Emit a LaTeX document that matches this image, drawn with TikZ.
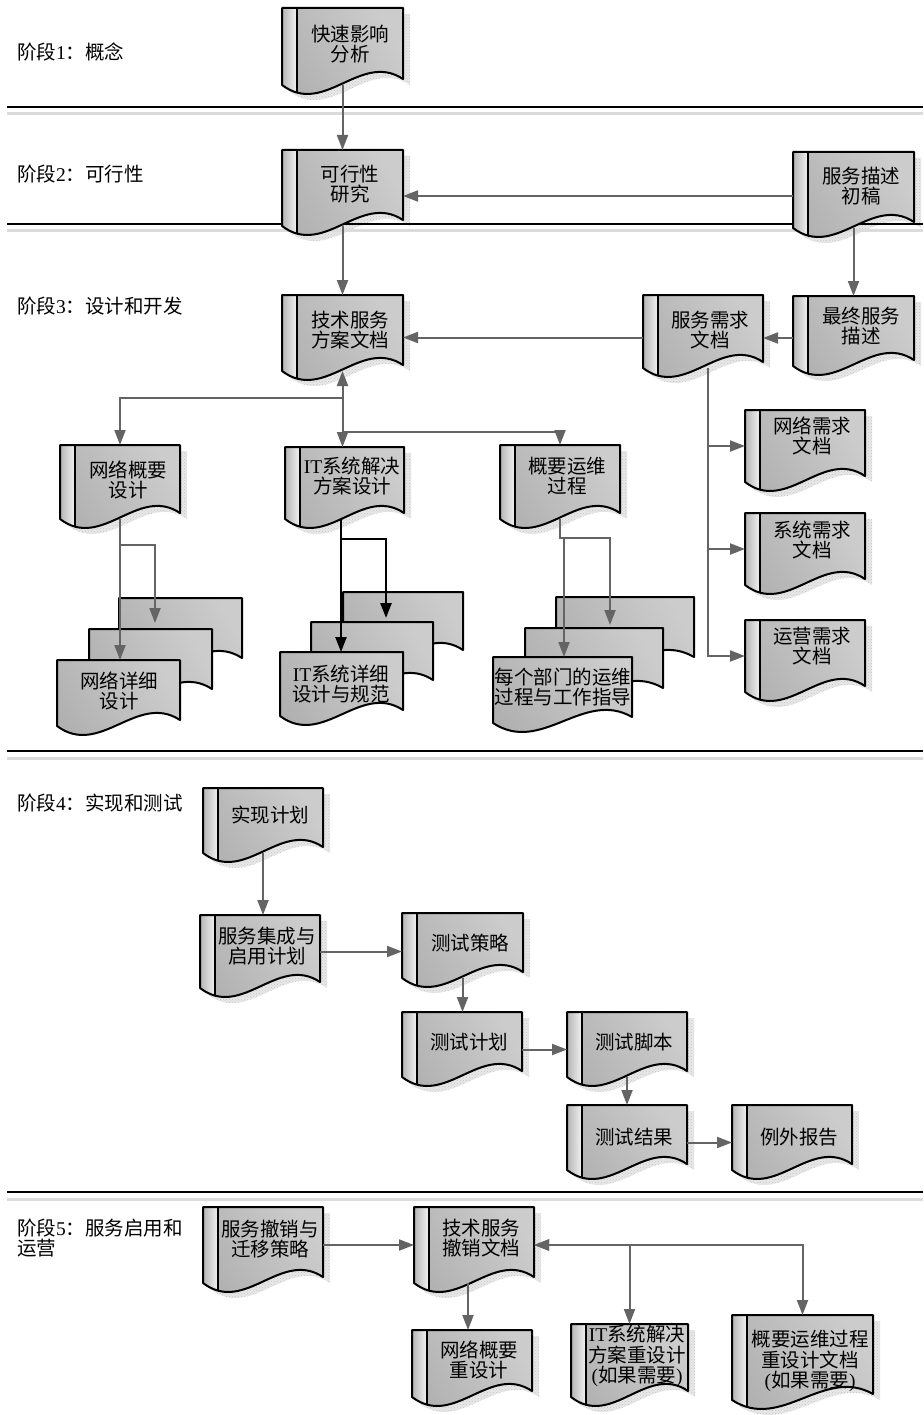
\documentclass[tikz,border=0pt]{standalone}
\usepackage{fontspec}
\setmainfont{Liberation Serif}
\newfontfamily\cjk{Noto Sans CJK SC}
\usetikzlibrary{arrows.meta,patterns}
\definecolor{lnc}{HTML}{646464}
\pgfdeclarelayer{shadows}
\pgfdeclarelayer{lines}
\pgfdeclarelayer{shapes}
\pgfsetlayers{shadows,lines,shapes,main}

\tikzset{
  ln/.style={draw=lnc, line width=2pt},
  arr/.style={ln, ->},
  blk/.style={draw=black, line width=2.4pt, ->},
  sepline/.style={draw=black, line width=1.8pt},
  sepdots/.style={draw=gray!28, line width=3pt},
  anchorbox/.style={draw=none, fill=none, inner sep=0pt, outer sep=0pt},
  doctext/.style={font={\cjk\fontsize{19.5pt}{20.5pt}\selectfont}, align=center, inner sep=0pt},
  phase/.style={font={\cjk\fontsize{19.5pt}{20.5pt}\selectfont}, anchor=west, align=left, inner sep=0pt},
  bodyfill/.style={left color=gray!62, middle color=gray!10, right color=gray!40, shading angle=120},
  barfill/.style={left color=gray!58, right color=gray!10},
  outline/.style={draw=black, line width=2pt, line join=round},
  shadowfill/.style={fill=gray!18, postaction={pattern=crosshatch dots, pattern color=gray!45}},
}

% outline of a document sheet with a wavy lower edge: style, left, top, width, height
\newcommand\docshape[5]{%
  \path[#1] (#2,#3) -- ({#2+#4},#3) -- ({#2+#4},{#3+#5-6})
    .. controls ({#2+0.65*#4},{#3+#5-34}) and ({#2+0.35*#4},{#3+#5+32}) .. (#2,{#3+#5}) -- cycle;}

% document with side bar and shadow: name, left, top, width, height, text x, text y, text
\newcommand\docbox[8]{%
  \node[anchorbox, minimum width=#4, minimum height=#5] (#1) at ({#2+#4/2},{#3+#5/2}) {};
  \begin{pgfonlayer}{shadows}
    \begin{scope}[shift={(7,6)}]\docshape{shadowfill}{#2}{#3}{#4}{#5}\end{scope}
  \end{pgfonlayer}
  \begin{pgfonlayer}{shapes}
    \begin{scope}
      \docshape{clip}{#2}{#3}{#4}{#5}
      \docshape{bodyfill}{#2}{#3}{#4}{#5}
      \path[barfill] (#2,#3) rectangle ({#2+15},{#3+#5+40});
      \draw[outline] ({#2+15},#3) -- ({#2+15},{#3+#5+40});
    \end{scope}
    \docshape{outline}{#2}{#3}{#4}{#5}
  \end{pgfonlayer}
  \node[doctext] (#1-t) at (#6,#7) {#8};
}

% plain sheet of a stack: name, left, top, width, height
\newcommand\pagebox[5]{%
  \node[anchorbox, minimum width=#4, minimum height=#5] (#1) at ({#2+#4/2},{#3+#5/2}) {};
  \begin{pgfonlayer}{shapes}
    \docshape{bodyfill}{#2}{#3}{#4}{#5}
    \docshape{outline}{#2}{#3}{#4}{#5}
  \end{pgfonlayer}
}

\begin{document}
\begin{tikzpicture}[x=1pt, y=-1pt, >={Triangle[length=15pt,width=11pt]}]
\useasboundingbox (0,0) rectangle (923,1415);

% phase separators
\begin{pgfonlayer}{lines}
  \foreach \yy in {107,224,751,1192} {
    \draw[sepline] (7,\yy) -- (923,\yy);
    \draw[sepdots] (7,\yy+7) -- (923,\yy+7);
  }
\end{pgfonlayer}

% phase titles
\node[phase] (p1) at (17,52) {阶段{\rmfamily 1}：概念};
\node[phase] (p2) at (17,174) {阶段{\rmfamily 2}：可行性};
\node[phase] (p3) at (17,306) {阶段{\rmfamily 3}：设计和开发};
\node[phase] (p4) at (17,803) {阶段{\rmfamily 4}：实现和测试};
\node[phase] (p5) at (17,1238) {阶段{\rmfamily 5}：服务启用和\\运营};

% phase 1 and 2
\docbox{qia}{282}{8}{121}{77}{350}{44}{快速影响\\分析}
\docbox{fs}{282}{150}{121}{76}{350}{184}{可行性\\研究}
\docbox{sd1}{793}{152}{121}{76}{861}{186}{服务描述\\初稿}

% phase 3
\docbox{tsd}{282}{295}{121}{76}{350}{330}{技术服务\\方案文档}
\docbox{srd}{643}{295}{120}{73}{710}{330}{服务需求\\文档}
\docbox{fsd}{793}{296}{121}{70}{861}{326}{最终服务\\描述}
\docbox{nhd}{60}{445}{120}{74}{128}{480}{网络概要\\设计}
\docbox{itd}{285}{447}{119}{72}{352}{476}{{\rmfamily IT}系统解决\\方案设计}
\docbox{opd}{500}{445}{120}{74}{567}{476}{概要运维\\过程}
\docbox{nrd}{745}{410}{120}{72}{812}{436}{网络需求\\文档}
\docbox{sysd}{745}{513}{120}{72}{812}{540}{系统需求\\文档}
\docbox{ord}{745}{620}{120}{72}{812}{646}{运营需求\\文档}

% stacks of detailed documents
\pagebox{nb}{119}{598}{123}{66}
\pagebox{nm}{89}{629}{123}{66}
\pagebox{nf}{57}{660}{123}{66}
\node[doctext] (nf-t) at (119,691) {网络详细\\设计};
\pagebox{ib}{343}{592}{120}{64}
\pagebox{im}{311}{622}{122}{64}
\pagebox{if}{280}{652}{123}{64}
\node[doctext] (if-t) at (341,684) {{\rmfamily IT}系统详细\\设计与规范};
\pagebox{ob}{556}{597}{138}{66}
\pagebox{om}{525}{628}{138}{66}
\pagebox{of}{493}{657}{139}{66}
\node[doctext] (of-t) at (563,687) {每个部门的运维\\过程与工作指导};

% phase 4
\docbox{ip}{203}{788}{120}{65}{270}{815}{实现计划}
\docbox{sip}{200}{915}{120}{73}{267}{946}{服务集成与\\启用计划}
\docbox{ts}{402}{913}{121}{65}{470}{943}{测试策略}
\docbox{tp}{402}{1012}{120}{65}{469}{1042}{测试计划}
\docbox{tsc}{567}{1012}{120}{65}{634}{1042}{测试脚本}
\docbox{tr}{567}{1105}{120}{65}{634}{1137}{测试结果}
\docbox{er}{732}{1105}{120}{65}{799}{1137}{例外报告}

% phase 5
\docbox{smd}{203}{1207}{120}{76}{270}{1239}{服务撤销与\\迁移策略}
\docbox{trd}{414}{1207}{120}{76}{481}{1238}{技术服务\\撤销文档}
\docbox{nr2}{412}{1330}{120}{67}{479}{1360}{网络概要\\重设计}
\docbox{itr}{571}{1324}{117}{73}{637}{1356}{{\rmfamily IT}系统解决\\方案重设计\\{\rmfamily (}如果需要{\rmfamily )}}
\docbox{opr}{732}{1315}{141}{85}{810}{1361}{概要运维过程\\重设计文档\\{\rmfamily (}如果需要{\rmfamily )}}

% connectors, phases 1-3
\draw[arr] (qia.south) -- (fs.north);
\draw[arr] ([yshift=-6pt]sd1.west) -- ([yshift=-6pt]sd1.west -| fs.east);
\draw[arr] (fs.south) -- (tsd.north);
\draw[arr] (sd1.south) -- (fsd.north);
\draw[arr] ([yshift=-7pt]fsd.west) -- ([yshift=-7pt]fsd.west -| srd.east);
\draw[arr] ([yshift=-6pt]srd.west) -- ([yshift=-6pt]srd.west -| tsd.east);
\draw[arr,<->] (tsd.south) -- (tsd.south |- itd.north);
\coordinate (j1) at (342.5,398);
\coordinate (j2) at (342.5,432);
\draw[arr] (j1) -| (nhd.north);
\draw[arr] (j2) -| (opd.north);
\draw[arr] ([xshift=5pt]srd.south) |- (nrd.west);
\draw[arr] ([xshift=5pt]srd.south) |- (sysd.west);
\draw[arr] ([xshift=5pt]srd.south) |- (ord.west);

% connectors into the stacks
\coordinate (nj) at (120,545);
\coordinate (nt) at (155,623);
\draw[arr] (nhd.south) -- (nhd.south |- nf.north);
\draw[arr] (nj) -| (nt);
\coordinate (ij) at (341,539);
\coordinate (it) at (386,618);
\draw[blk] ([xshift=-3.5pt]itd.south) -- ([xshift=-3.5pt]itd.south |- if.north);
\draw[blk] (ij) -| (it);
\coordinate (oj) at (560,538);
\coordinate (ot) at (610,625);
\coordinate (oj2) at (564,538);
\draw[arr] (opd.south) -- (oj) -| (ot);
\draw[arr] (oj2) -- (oj2 |- of.north);

% connectors, phase 4
\draw[arr] (ip.south) -- (ip.south |- sip.north);
\draw[arr] (sip.east) -- (sip.east -| ts.west);
\draw[arr] (ts.south) -- (ts.south |- tp.north);
\draw[arr] ([yshift=-5pt]tp.east) -- ([yshift=-5pt]tp.east -| tsc.west);
\draw[arr] (tsc.south) -- (tsc.south |- tr.north);
\draw[arr] ([yshift=-5pt]tr.east) -- ([yshift=-5pt]tr.east -| er.west);

% connectors, phase 5
\draw[arr] (smd.east) -- (smd.east -| trd.west);
\draw[arr] ([xshift=-6pt]trd.south) -- ([xshift=-6pt]trd.south |- nr2.north);
\draw[arr,<->] (trd.east) -| (itr.north);
\draw[arr,<->] (trd.east) -| (opr.north);
\end{tikzpicture}
\end{document}
